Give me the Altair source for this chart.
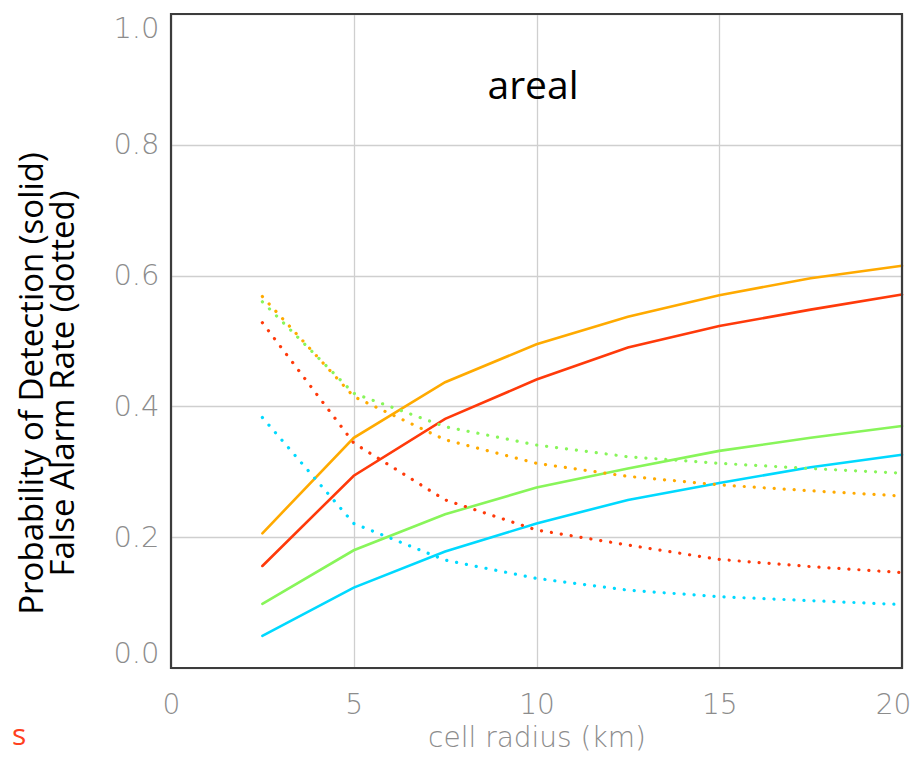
import altair as alt
import pandas as pd

radius = [2.5, 5, 7.5, 10, 12.5, 15, 17.5, 20]

series_names = ["orange", "red", "green", "cyan"]
series_colors = ["#FFAA00", "#FF3A0A", "#88F55A", "#00D9FF"]

pod = {
    "orange": [0.206, 0.352, 0.437, 0.495, 0.537, 0.570, 0.596, 0.615],
    "red":    [0.156, 0.294, 0.381, 0.441, 0.490, 0.523, 0.548, 0.571],
    "green":  [0.098, 0.180, 0.235, 0.276, 0.305, 0.332, 0.352, 0.370],
    "cyan":   [0.049, 0.123, 0.178, 0.221, 0.257, 0.283, 0.307, 0.326],
}
far = {
    "orange": [0.568, 0.415, 0.349, 0.313, 0.293, 0.280, 0.271, 0.263],
    "red":    [0.528, 0.344, 0.257, 0.211, 0.188, 0.166, 0.155, 0.146],
    "green":  [0.560, 0.420, 0.369, 0.341, 0.323, 0.313, 0.305, 0.298],
    "cyan":   [0.383, 0.221, 0.165, 0.137, 0.119, 0.109, 0.103, 0.097],
}

rows = []
for kind, table in (("solid", pod), ("dotted", far)):
    for s in series_names:
        for x, v in zip(radius, table[s]):
            rows.append({"radius": x, "value": v, "series": s, "kind": kind})
df = pd.DataFrame(rows)

FONT = "Open Sans"
AXFONT = "DejaVu Sans"
W, H = 731, 654

xenc = alt.X("radius:Q",
             scale=alt.Scale(domain=[0, 20], nice=False, zero=True),
             axis=alt.Axis(values=[0, 5, 10, 15, 20], format="d",
                           title="cell radius (km)", ticks=False, domain=False,
                           grid=True, gridColor="#cfcfcf", gridWidth=1.3,
                           labelFont=AXFONT, labelFontSize=28, labelColor="#8c8c8c",
                           labelFontWeight=200, labelPadding=23,
                           labelOffset={"condition": {"test": "datum.value == 20", "value": -9},
                                        "value": 0},
                           titleFont=AXFONT, titleFontSize=28, titleColor="#8c8c8c",
                           titleFontWeight=200, titleBaseline="middle",
                           titleAnchor="middle", titleY=70,
                           labelFlush=False))
yenc = alt.Y("value:Q",
             scale=alt.Scale(domain=[0, 1], nice=False),
             axis=alt.Axis(values=[0, 0.2, 0.4, 0.6, 0.8, 1.0], format=".1f",
                           title=["Probability of Detection (solid)",
                                  "False Alarm Rate (dotted)"],
                           ticks=False, domain=False,
                           grid=True, gridColor="#cfcfcf", gridWidth=1.3,
                           labelFont=AXFONT, labelFontSize=29, labelColor="#8c8c8c",
                           labelFontWeight=200, labelPadding=12, labelFlush=True,
                           titleFont=FONT, titleFontSize=33, titleColor="#000000",
                           titleFontWeight="normal", titleAngle=-90,
                           titleAlign="center", titleBaseline="top",
                           titleX=-155, titleY=369, titleLineHeight=31))
cenc = alt.Color("series:N", scale=alt.Scale(domain=series_names, range=series_colors),
                 legend=None)

solid = alt.Chart(df).transform_filter(alt.datum.kind == "solid").mark_line(
    strokeWidth=2.6, strokeCap="round"
).encode(x=xenc, y=yenc, color=cenc, detail="series:N")

dotted = alt.Chart(df).transform_filter(alt.datum.kind == "dotted").mark_line(
    strokeWidth=3.2, strokeCap="round", strokeDash=[0.1, 9.9]
).encode(x="radius:Q", y="value:Q", color=cenc, detail="series:N")

frame = alt.Chart(pd.DataFrame({"a": [0]})).mark_rect(
    fill=None, stroke="#3c3c3c", strokeWidth=2.2
).encode(x=alt.value(0), x2=alt.value(W), y=alt.value(0), y2=alt.value(H))

title_txt = alt.Chart(pd.DataFrame({"t": ["areal"]})).mark_text(
    font=FONT, fontSize=39, color="#000000", align="center", baseline="middle"
).encode(x=alt.value(362), y=alt.value(73), text="t:N")

s_txt = alt.Chart(pd.DataFrame({"t": ["s"]})).mark_text(
    font=FONT, fontSize=30, color="#FF4020", align="left", baseline="middle"
).encode(x=alt.value(-159), y=alt.value(722), text="t:N")

chart = alt.layer(solid, dotted, frame, title_txt, s_txt).properties(
    width=W, height=H,
    autosize=alt.AutoSizeParams(type="none"),
    padding={"left": 163, "top": 6, "right": 10, "bottom": 84},
).configure_view(
    strokeWidth=0
).configure(background="white")

chart.save("out.html", embed_options={"renderer": "svg", "actions": False})
